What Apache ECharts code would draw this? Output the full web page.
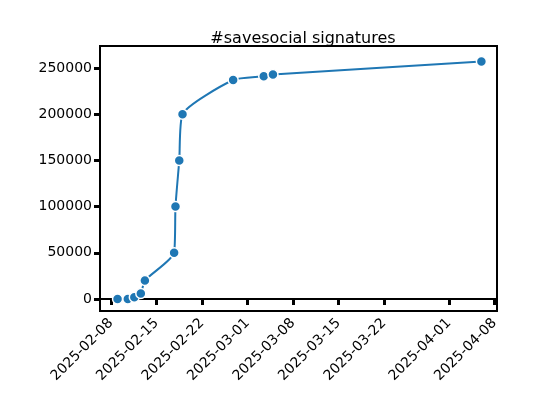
<!DOCTYPE html><html><head><meta charset="utf-8"><script src="https://cdn.jsdelivr.net/npm/echarts@6/dist/echarts.min.js"></script></head><body style="margin:0"><div id="c" style="width:554px;height:416px"></div><script>
const dates = ['2025-02-09T00:00','2025-02-10T14:00','2025-02-11T14:00','2025-02-12T14:00','2025-02-13T05:00','2025-02-17T17:00','2025-02-17T22:00','2025-02-18T12:00','2025-02-19T00:00','2025-02-26T19:00','2025-03-03T12:00','2025-03-04T22:00','2025-04-06T00:00'];
const values = [0,0,2000,6000,20000,50000,100000,150000,200000,237000,241000,243000,257000];
const tickDates = ['2025-02-08','2025-02-15','2025-02-22','2025-03-01','2025-03-08','2025-03-15','2025-03-22','2025-04-01','2025-04-08'];
const yTicks = [0,50000,100000,150000,200000,250000];
const t = s => new Date(s+(s.length===10?'T00:00':'')).getTime();
const ticks = tickDates.map(t);
const fmt = v => { const d=new Date(v); const p=n=>String(n).padStart(2,'0'); return d.getFullYear()+'-'+p(d.getMonth()+1)+'-'+p(d.getDate()); };
const font = 'DejaVu Sans';
const ch = echarts.init(document.getElementById('c'));
ch.setOption({
  animation:false,
  title:{text:'#savesocial signatures',left:298,top:26,textAlign:'center',textStyle:{fontFamily:font,fontSize:16,fontWeight:'normal',color:'#000'}},
  grid:{left:100,right:57,top:46,bottom:105},
  xAxis:{type:'value',min:t('2025-02-08')-1.7*864e5,max:t('2025-02-08')+59.4*864e5,
    axisLine:{lineStyle:{color:'#000',width:2}},splitLine:{show:false},
    axisTick:{customValues:ticks,length:6,lineStyle:{color:'#000',width:3}},
    axisLabel:{customValues:ticks,formatter:fmt,rotate:45,fontFamily:font,fontSize:14,color:'#000',margin:10}},
  yAxis:{type:'value',min:-13000,max:273800,
    axisLine:{show:true,lineStyle:{color:'#000',width:2}},splitLine:{show:false},
    axisTick:{customValues:yTicks,length:6,lineStyle:{color:'#000',width:3}},
    axisLabel:{customValues:yTicks,formatter:v=>String(v),fontFamily:font,fontSize:14,color:'#000'}},
  series:[{type:'line',smooth:0.2,data:dates.map((d,i)=>[t(d),values[i]]),
    lineStyle:{color:'#1f77b4',width:2},symbol:'circle',symbolSize:10,
    itemStyle:{color:'#1f77b4',borderColor:'#fff',borderWidth:1.5}}],
  graphic:[{type:'rect',shape:{x:100,y:46,width:397,height:265},style:{fill:'none',stroke:'#000',lineWidth:2},z:10}]
});
</script></body></html>
